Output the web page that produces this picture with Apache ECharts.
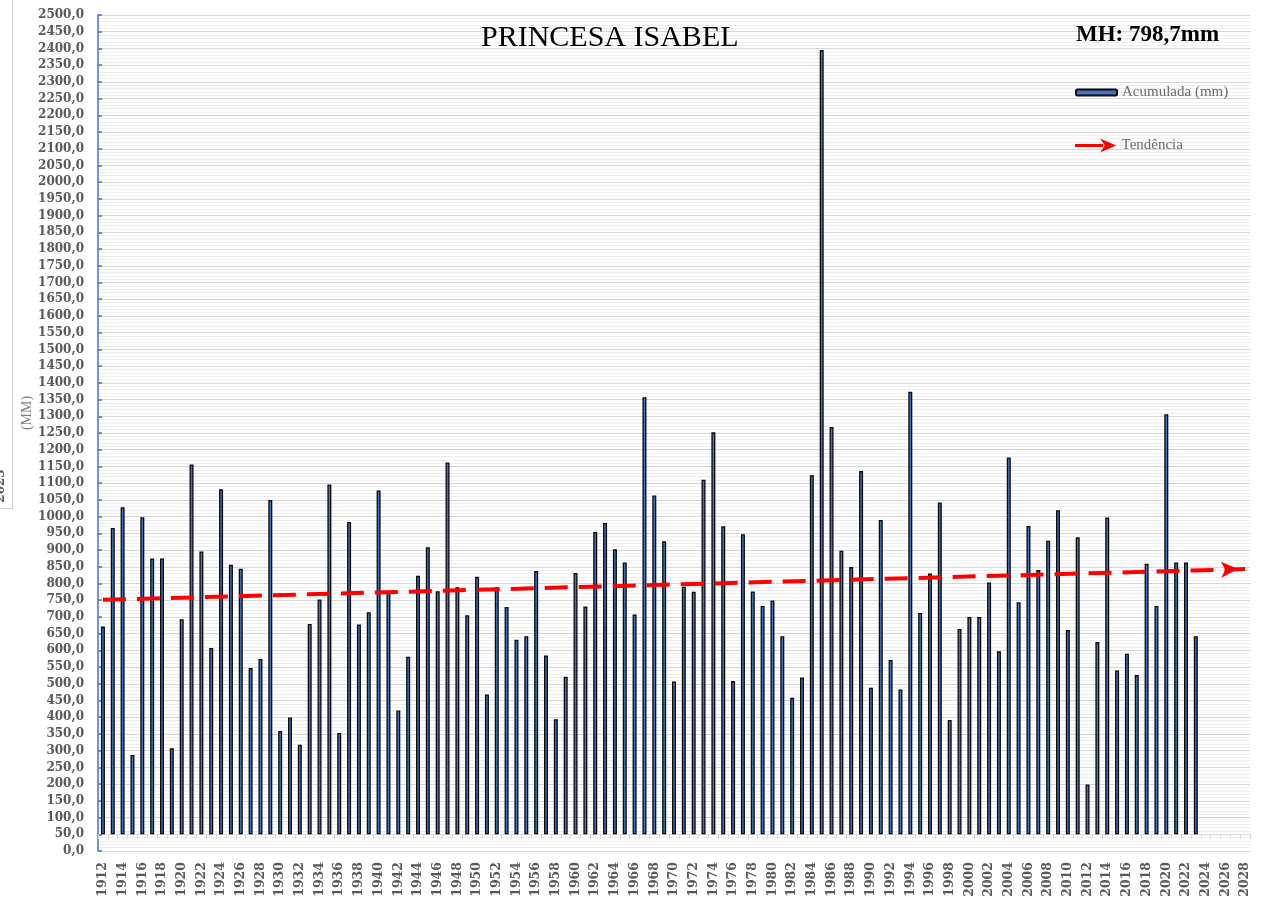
<!DOCTYPE html>
<html>
<head>
<meta charset="utf-8">
<script src="https://cdn.jsdelivr.net/npm/echarts@6/dist/echarts.min.js"></script>
<style>
  html, body { margin: 0; padding: 0; background: #fff; }
  #main { width: 1262px; height: 902px; }
</style>
</head>
<body>
<div id="main"></div>
<script>
// anos do eixo x (1912 a 2028)
var firstYear = 1912;
var lastYear = 2028;
var years = [];
for (var y = firstYear; y <= lastYear; y++) years.push(String(y));

// chuva acumulada anual (mm), 1912 - 2023
var acumulada = [
  671, 966, 1028, 287, 998, 875, 875, 307, 693, 1156,
  896, 607, 1082, 856, 844, 547, 574, 1050, 359, 399,
  318, 679, 752, 1096, 353, 984, 677, 714, 1078, 773,
  420, 581, 823, 908, 777, 1162, 789, 705, 820, 468,
  789, 730, 632, 642, 837, 585, 394, 521, 831, 731,
  954, 981, 902, 863, 707, 1357, 1063, 926, 507, 790,
  775, 1110, 1252, 971, 508, 947, 776, 733, 749, 642,
  458, 519, 1124, 2395, 1268, 898, 849, 1136, 488, 990,
  571, 483, 1373, 712, 830, 1042, 392, 664, 700, 700,
  803, 597, 1177, 744, 972, 840, 928, 1019, 661, 938,
  199, 625, 997, 540, 590, 526, 859, 733, 1306, 863,
  863, 642
];

// tendencia (linha reta)
var trendYears = ['1912', '2028'];
var trendValues = [751, 843];

// o eixo horizontal cruza em 50
var cruzamento = 50;

var fmt = function (v) { return v.toFixed(1).replace('.', ','); };

var chart = echarts.init(document.getElementById('main'), null, { renderer: 'canvas' });

var option = {
  animation: false,
  backgroundColor: '#fff',
  title: [
    {
      text: 'PRINCESA ISABEL',
      left: 476, top: 18,
      textStyle: { fontFamily: 'Liberation Serif', fontSize: 30, fontWeight: 'normal', color: '#000' }
    },
    {
      text: 'MH: 798,7mm',
      left: 1071, top: 19,
      textStyle: { fontFamily: 'Liberation Serif', fontSize: 23, fontWeight: 'bold', color: '#000' }
    }
  ],
  legend: [
    {
      data: ['Acumulada (mm)'],
      left: 1070, top: 80,
      itemWidth: 41, itemHeight: 6,
      textStyle: { fontFamily: 'Liberation Serif', fontSize: 15, color: '#6b6b6b' }
    },
    {
      data: [{ name: 'Tendência', icon: 'path://M0,6 L30,6 L30,9 L0,9 Z M27,0 L44,7.5 L27,15 L32,7.5 Z' }],
      left: 1070, top: 133,
      itemWidth: 42, itemHeight: 14,
      textStyle: { fontFamily: 'Liberation Serif', fontSize: 15, color: '#6b6b6b' }
    }
  ],
  grid: { left: 98, right: 12, top: 15, bottom: 51 },
  xAxis: {
    type: 'category',
    data: years,
    boundaryGap: true,
    offset: -17,
    axisLine: { show: true, lineStyle: { color: '#d9d9d9', width: 1 } },
    axisTick: { show: true, interval: 0, length: 5, lineStyle: { color: '#d9d9d9' } },
    axisLabel: {
      interval: 1, rotate: 90, margin: 28,
      fontFamily: 'DejaVu Serif', fontWeight: 'bold', fontSize: 12.5, color: '#595959'
    },
    splitLine: { show: false }
  },
  yAxis: {
    type: 'value',
    min: 0, max: 2500, interval: 50,
    axisLine: { show: true, lineStyle: { color: '#4472c4', width: 1.5 } },
    axisTick: { show: true, inside: true, length: 4, lineStyle: { color: '#4472c4', width: 1.5 } },
    axisLabel: {
      margin: 14, formatter: fmt,
      fontFamily: 'DejaVu Serif', fontWeight: 'bold', fontSize: 12, color: '#595959'
    },
    splitLine: { show: true, lineStyle: { color: '#d6d6d6', width: 1 } },
    minorTick: { show: false, splitNumber: 5 },
    minorSplitLine: { show: true, lineStyle: { color: '#eeeeee', width: 1 } }
  },
  graphic: [
    {
      type: 'rect', left: -20, top: -2, silent: true,
      shape: { width: 32, height: 510 },
      style: { fill: '#fff', stroke: '#d0d0d0', lineWidth: 1 }
    },
    {
      type: 'text', x: 1, y: 486, rotation: Math.PI / 2, silent: true,
      style: { text: '2023', fontFamily: 'DejaVu Serif', fontWeight: 'bold', fontSize: 12, fill: '#595959', align: 'center', verticalAlign: 'middle' }
    },
    {
      type: 'text', x: 27, y: 413, rotation: Math.PI / 2, silent: true,
      style: { text: '(MM)', fontFamily: 'Liberation Serif', fontSize: 14, fill: '#808080', align: 'center', verticalAlign: 'middle' }
    }
  ],
  series: [
    {
      name: 'base',
      type: 'bar',
      stack: 'chuva',
      barWidth: 4,
      silent: true,
      itemStyle: { color: 'rgba(0,0,0,0)' },
      data: acumulada.map(function () { return cruzamento; })
    },
    {
      name: 'Acumulada (mm)',
      type: 'bar',
      stack: 'chuva',
      barWidth: 4,
      itemStyle: { color: '#4472c4', borderColor: '#0a0a0a', borderWidth: 1.3 },
      data: acumulada.map(function (v) { return v - cruzamento; })
    },
    {
      name: 'Tendência',
      type: 'line',
      z: 5,
      itemStyle: { color: '#ff0000' },
      lineStyle: { color: '#ff0000', width: 4, type: [23, 11] },
      data: [
        { value: [trendYears[0], trendValues[0]], symbol: 'none' },
        { value: [trendYears[1], trendValues[1]], symbol: 'arrow', symbolSize: [12, 17], symbolRotate: -88, symbolOffset: [-7, 0] }
      ]
    }
  ]
};

chart.setOption(option);
</script>
</body>
</html>
